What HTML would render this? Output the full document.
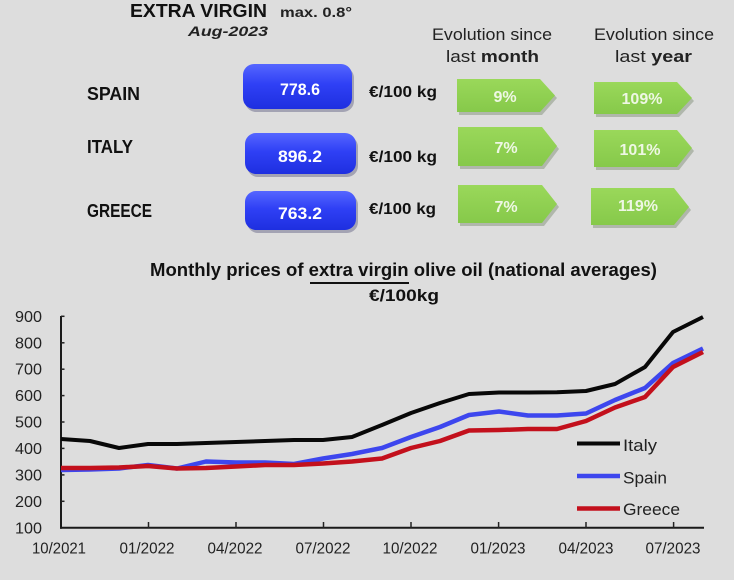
<!DOCTYPE html>
<html><head><meta charset="utf-8"><style>
html,body{margin:0;padding:0;background:#dddddd;}
svg{display:block;font-family:"Liberation Sans",Arial,sans-serif;}
</style></head><body>
<svg width="734" height="580" viewBox="0 0 734 580" xmlns="http://www.w3.org/2000/svg">
<defs>
<linearGradient id="bg" x1="0" y1="0" x2="0" y2="1">
<stop offset="0" stop-color="#5566ff"/><stop offset="0.45" stop-color="#2f40f5"/><stop offset="1" stop-color="#1e2fe0"/>
</linearGradient>
<linearGradient id="gg" x1="0" y1="0" x2="0" y2="1">
<stop offset="0" stop-color="#9ad85a"/><stop offset="1" stop-color="#86c94a"/>
</linearGradient>
</defs>
<rect width="734" height="580" fill="#dddddd"/>

<!-- header -->
<text x="130" y="17" font-size="18" font-weight="bold" fill="#111" textLength="137" lengthAdjust="spacingAndGlyphs">EXTRA VIRGIN</text>
<text x="280" y="17" font-size="14" font-weight="bold" fill="#222" textLength="72" lengthAdjust="spacingAndGlyphs">max. 0.8°</text>
<text x="188" y="36" font-size="14" font-weight="bold" font-style="italic" fill="#222" textLength="80" lengthAdjust="spacingAndGlyphs">Aug-2023</text>

<text x="432" y="40" font-size="17" fill="#222" textLength="120" lengthAdjust="spacingAndGlyphs">Evolution  since</text>
<text x="446" y="62" font-size="17" fill="#222" textLength="93" lengthAdjust="spacingAndGlyphs">last <tspan font-weight="bold">month</tspan></text>
<text x="594" y="40" font-size="17" fill="#222" textLength="120" lengthAdjust="spacingAndGlyphs">Evolution  since</text>
<text x="615" y="62" font-size="17" fill="#222" textLength="77" lengthAdjust="spacingAndGlyphs">last <tspan font-weight="bold">year</tspan></text>

<!-- country labels -->
<text x="87" y="100" font-size="18" font-weight="bold" fill="#111" textLength="53" lengthAdjust="spacingAndGlyphs">SPAIN</text>
<text x="87" y="153" font-size="18" font-weight="bold" fill="#111" textLength="46" lengthAdjust="spacingAndGlyphs">ITALY</text>
<text x="87" y="217" font-size="18" font-weight="bold" fill="#111" textLength="65" lengthAdjust="spacingAndGlyphs">GREECE</text>

<!-- blue buttons -->
<rect x="245" y="67" width="109" height="45" rx="11" fill="#6a6a8a" opacity="0.5"/>
<rect x="243" y="64" width="109" height="45" rx="11" fill="url(#bg)"/>
<text x="300" y="95" font-size="17" font-weight="bold" fill="#fff" text-anchor="middle" textLength="40" lengthAdjust="spacingAndGlyphs">778.6</text>
<rect x="247" y="136" width="111" height="41" rx="11" fill="#6a6a8a" opacity="0.5"/>
<rect x="245" y="133" width="111" height="41" rx="11" fill="url(#bg)"/>
<text x="300" y="162" font-size="17" font-weight="bold" fill="#fff" text-anchor="middle" textLength="44" lengthAdjust="spacingAndGlyphs">896.2</text>
<rect x="247" y="194" width="111" height="39" rx="11" fill="#6a6a8a" opacity="0.5"/>
<rect x="245" y="191" width="111" height="39" rx="11" fill="url(#bg)"/>
<text x="300" y="219" font-size="17" font-weight="bold" fill="#fff" text-anchor="middle" textLength="44" lengthAdjust="spacingAndGlyphs">763.2</text>

<!-- units -->
<text x="369" y="97" font-size="16" font-weight="bold" fill="#111" textLength="68" lengthAdjust="spacingAndGlyphs">€/100 kg</text>
<text x="369" y="162" font-size="16" font-weight="bold" fill="#111" textLength="68" lengthAdjust="spacingAndGlyphs">€/100 kg</text>
<text x="369" y="214" font-size="16" font-weight="bold" fill="#111" textLength="67" lengthAdjust="spacingAndGlyphs">€/100 kg</text>

<!-- green arrows -->
<g fill="#7a8a70" opacity="0.45">
<polygon points="459,82 542,82 557,98 542,115 459,115"/>
<polygon points="596,85 679,85 694,101 679,117 596,117"/>
<polygon points="460,130 544,130 559,149 544,169 460,169"/>
<polygon points="596,133 679,133 694,151 679,170 596,170"/>
<polygon points="460,188 544,188 559,207 544,226 460,226"/>
<polygon points="593,191 676,191 691,210 676,228 593,228"/>
</g>
<g fill="url(#gg)">
<polygon points="457,79 540,79 555,95.5 540,112 457,112"/>
<polygon points="594,82 677,82 692,98 677,114 594,114"/>
<polygon points="458,127 542,127 557,146 542,166 458,166"/>
<polygon points="594,130 677,130 692,148 677,167 594,167"/>
<polygon points="458,185 542,185 557,204 542,223 458,223"/>
<polygon points="591,188 674,188 689,207 674,225 591,225"/>
</g>
<g font-size="16" font-weight="bold" fill="#eef7e4" text-anchor="middle">
<text x="505" y="102">9%</text>
<text x="642" y="104">109%</text>
<text x="506" y="153">7%</text>
<text x="640" y="155">101%</text>
<text x="506" y="212">7%</text>
<text x="638" y="211">119%</text>
</g>

<!-- chart title -->
<text x="150" y="276" font-size="18" font-weight="bold" fill="#111" textLength="507" lengthAdjust="spacingAndGlyphs">Monthly prices of extra virgin olive oil (national averages)</text>
<line x1="310" y1="283" x2="409" y2="283" stroke="#111" stroke-width="2"/>
<text x="369" y="301" font-size="17" font-weight="bold" fill="#111" textLength="70" lengthAdjust="spacingAndGlyphs">€/100kg</text>

<!-- axes -->
<g stroke="#1a1a1a" stroke-width="2" fill="none">
<line x1="61" y1="316" x2="61" y2="528.7"/>
<line x1="60" y1="527.7" x2="704" y2="527.7"/>
</g>
<g stroke="#222" stroke-width="1.5" fill="none">
<line x1="61" y1="316.3" x2="64.5" y2="316.3"/>
<line x1="61" y1="342.8" x2="64.5" y2="342.8"/>
<line x1="61" y1="369.2" x2="64.5" y2="369.2"/>
<line x1="61" y1="395.6" x2="64.5" y2="395.6"/>
<line x1="61" y1="422" x2="64.5" y2="422"/>
<line x1="61" y1="448.4" x2="64.5" y2="448.4"/>
<line x1="61" y1="474.9" x2="64.5" y2="474.9"/>
<line x1="61" y1="501.3" x2="64.5" y2="501.3"/>
<line x1="148.5" y1="522" x2="148.5" y2="528"/>
<line x1="236" y1="522" x2="236" y2="528"/>
<line x1="323.5" y1="522" x2="323.5" y2="528"/>
<line x1="411" y1="522" x2="411" y2="528"/>
<line x1="498.6" y1="522" x2="498.6" y2="528"/>
<line x1="586" y1="522" x2="586" y2="528"/>
<line x1="673.6" y1="522" x2="673.6" y2="528"/>
</g>
<g font-size="16" fill="#222">
<text x="15" y="321.8" textLength="27" lengthAdjust="spacingAndGlyphs">900</text>
<text x="15" y="348.3" textLength="27" lengthAdjust="spacingAndGlyphs">800</text>
<text x="15" y="374.7" textLength="27" lengthAdjust="spacingAndGlyphs">700</text>
<text x="15" y="401.1" textLength="27" lengthAdjust="spacingAndGlyphs">600</text>
<text x="15" y="427.5" textLength="27" lengthAdjust="spacingAndGlyphs">500</text>
<text x="15" y="453.9" textLength="27" lengthAdjust="spacingAndGlyphs">400</text>
<text x="15" y="480.4" textLength="27" lengthAdjust="spacingAndGlyphs">300</text>
<text x="15" y="506.8" textLength="27" lengthAdjust="spacingAndGlyphs">200</text>
<text x="15" y="533.3" textLength="27" lengthAdjust="spacingAndGlyphs">100</text>
</g>
<g font-size="16" fill="#222" text-anchor="middle">
<text x="59" y="553.5" textLength="54" lengthAdjust="spacingAndGlyphs">10/2021</text>
<text x="147" y="553.5" textLength="55" lengthAdjust="spacingAndGlyphs">01/2022</text>
<text x="235" y="553.5" textLength="55" lengthAdjust="spacingAndGlyphs">04/2022</text>
<text x="323" y="553.5" textLength="55" lengthAdjust="spacingAndGlyphs">07/2022</text>
<text x="410" y="553.5" textLength="55" lengthAdjust="spacingAndGlyphs">10/2022</text>
<text x="498" y="553.5" textLength="55" lengthAdjust="spacingAndGlyphs">01/2023</text>
<text x="586" y="553.5" textLength="55" lengthAdjust="spacingAndGlyphs">04/2023</text>
<text x="673" y="553.5" textLength="55" lengthAdjust="spacingAndGlyphs">07/2023</text>
</g>

<!-- series -->
<g fill="none" stroke-linejoin="round" stroke-linecap="butt">
<polyline stroke="#3d46ee" stroke-width="4.5" points="61,470 90,469.5 119,468.5 148,465 177,468.5 206,461.5 236,462.5 265,462.5 294,464 323,458.5 352,454 382,448 411,437 440,427 469,415 499,411.5 528,415.5 557,415.5 586,413.5 615,400 645,388 673,363 703,348.5"/>
<polyline stroke="#c3101c" stroke-width="4.5" points="61,468 90,468 119,467.5 148,466 177,468.5 206,468 236,466.5 265,465 294,465 323,463.5 352,461.5 382,458.5 411,448 440,441 469,430.5 499,430 528,429 557,429 586,421 615,407.5 645,397 673,367 703,352"/>
<polyline stroke="#080808" stroke-width="4" points="61,439 90,441 119,448 148,444 177,444 206,443 236,442 265,441 294,440 323,440 352,437 382,425 411,413 440,403 469,394 499,392.5 528,392.5 557,392.3 586,391 615,384 645,367 673,332 703,317"/>
</g>

<!-- legend -->
<line x1="577" y1="443.5" x2="620" y2="443.5" stroke="#080808" stroke-width="4"/>
<line x1="577" y1="476" x2="620" y2="476" stroke="#3d46ee" stroke-width="4.5"/>
<line x1="577" y1="508.5" x2="620" y2="508.5" stroke="#c3101c" stroke-width="4.5"/>
<g font-size="17" fill="#222">
<text x="623" y="451" textLength="34" lengthAdjust="spacingAndGlyphs">Italy</text>
<text x="623" y="483.5" textLength="44" lengthAdjust="spacingAndGlyphs">Spain</text>
<text x="623" y="515" textLength="57" lengthAdjust="spacingAndGlyphs">Greece</text>
</g>
</svg>
</body></html>
